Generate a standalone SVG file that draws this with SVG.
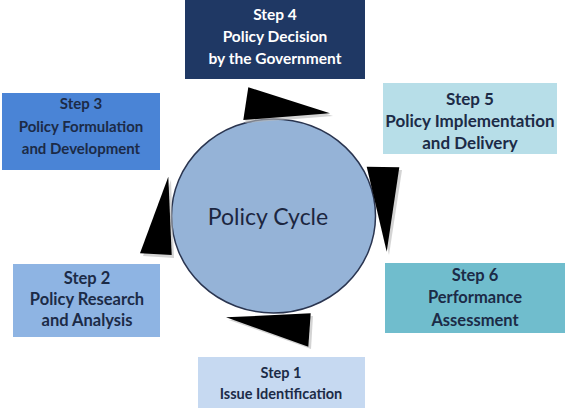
<svg xmlns="http://www.w3.org/2000/svg" width="565" height="412" viewBox="0 0 565 412">
<style>
.box text{font-family:Lato,"Liberation Sans",sans-serif;font-weight:bold;text-anchor:middle;dominant-baseline:central;fill:#1c2b47}
.fs{font-size:15px}
.arrow{fill:#000}
.shadow{fill:#b8b8b8;opacity:0.6}
</style>
<rect width="565" height="412" fill="#fff"/>
<g id="center">
<ellipse cx="273.5" cy="216" rx="102" ry="97" fill="#95b3d7" stroke="#2a3550" stroke-width="1.5"/>
<text x="268" y="216" font-family="Lato,'Liberation Sans',sans-serif" font-size="23" fill="#1c2640" text-anchor="middle" dominant-baseline="central">Policy Cycle</text>
</g>
<g id="connectors">
<polygon class="shadow" points="250,90 245,123 333,116"/>
<polygon class="arrow" points="248.3,87.3 243.3,120 330,113.3"/>
<polygon class="shadow" points="369,170 402,170 389,255"/>
<polygon class="arrow" points="366.7,166.7 399.3,167.3 386.7,251.7"/>
<polygon class="shadow" points="229,320 313,316 311,349"/>
<polygon class="arrow" points="226,317.3 310.7,313.3 308.3,346.7"/>
<polygon class="shadow" points="171,180 143,256 174,258"/>
<polygon class="arrow" points="168.3,176.7 140,253.3 171.7,255"/>
</g>
<g id="step4" class="box">
<rect x="185" y="0" width="180" height="79" fill="#1f3864"/>
<text x="275" y="14" style="font-size:15.5px;fill:#fff">Step 4</text>
<text x="275" y="36" style="font-size:15.5px;fill:#fff">Policy Decision</text>
<text x="275" y="58" style="font-size:15.5px;fill:#fff">by the Government</text>
</g>
<g id="step3" class="box">
<rect x="2" y="93" width="158" height="77" fill="#4a84d6"/>
<text x="81" y="103" class="fs">Step 3</text>
<text x="81" y="126" class="fs">Policy Formulation</text>
<text x="81" y="148" class="fs">and Development</text>
</g>
<g id="step5" class="box">
<rect x="383" y="83" width="174" height="71" fill="#b7dee8"/>
<text x="470" y="98" style="font-size:17px">Step 5</text>
<text x="470" y="120" style="font-size:17px">Policy Implementation</text>
<text x="470" y="142" style="font-size:17px">and Delivery</text>
</g>
<g id="step2" class="box">
<rect x="13" y="264" width="147" height="73" fill="#8eb4e3"/>
<text x="87" y="278" style="font-size:16.5px">Step 2</text>
<text x="87" y="299" style="font-size:16.5px">Policy Research</text>
<text x="87" y="320" style="font-size:16.5px">and Analysis</text>
</g>
<g id="step6" class="box">
<rect x="385" y="263" width="180" height="70" fill="#70bdcd"/>
<text x="475" y="275" style="font-size:16.5px">Step 6</text>
<text x="475" y="297" style="font-size:16.5px">Performance</text>
<text x="475" y="320" style="font-size:16.5px">Assessment</text>
</g>
<g id="step1" class="box">
<rect x="198" y="357" width="167" height="51" fill="#c6d9f1"/>
<text x="281" y="372" style="font-size:14.5px">Step 1</text>
<text x="281" y="393" style="font-size:14.5px">Issue Identification</text>
</g>
</svg>
